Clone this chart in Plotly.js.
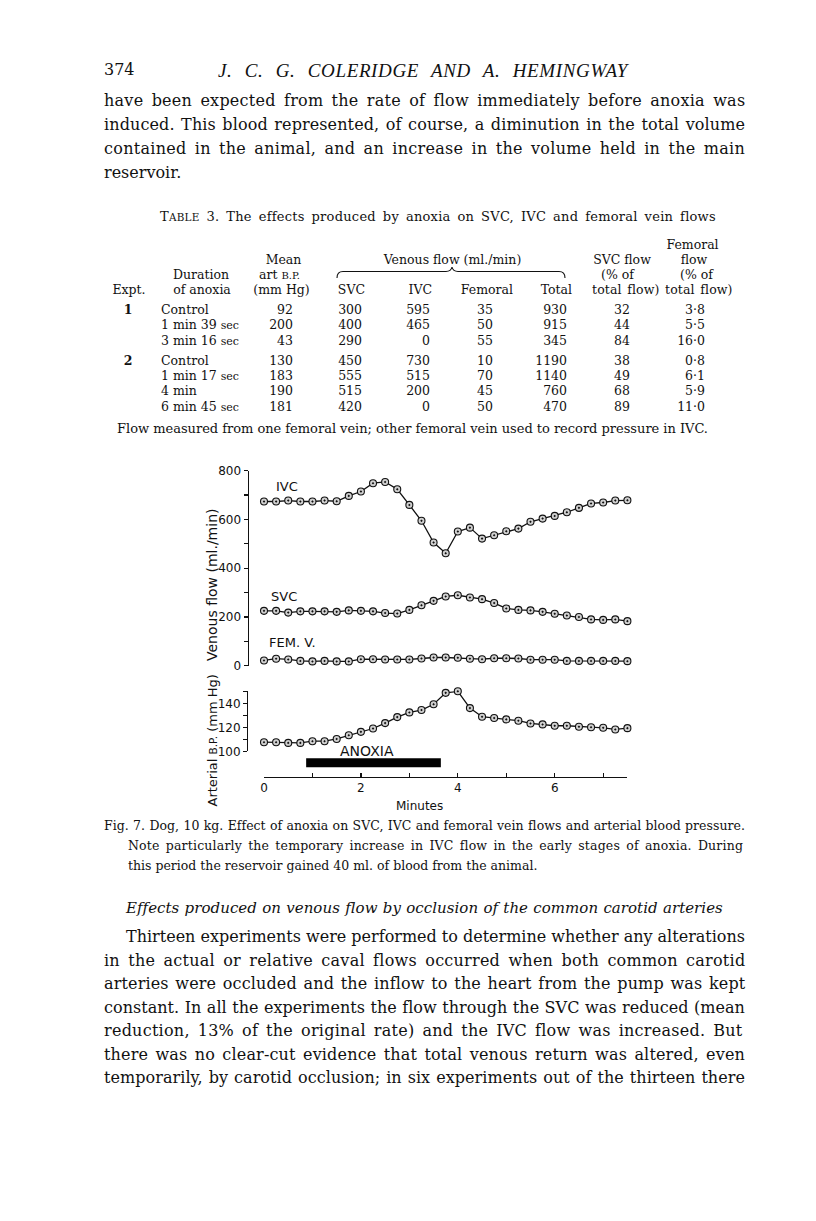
<!DOCTYPE html>
<html><head><meta charset="utf-8">
<script src="https://cdn.plot.ly/plotly-3.0.1.min.js"></script>
<style>
html,body{margin:0;padding:0;background:#fff;}
#page{position:relative;width:816px;height:1221px;overflow:hidden;background:#fff;}
#chart{position:absolute;left:0;top:0;width:816px;height:1221px;z-index:0;}
.t{position:absolute;white-space:nowrap;z-index:2;color:#111;line-height:1;}
</style></head><body><div id="page"><div id="chart"></div></div>
<script>
// ---------- chart data ----------
const minutes = [0,0.25,0.5,0.75,1,1.25,1.5,1.75,2,2.25,2.5,2.75,3,3.25,3.5,3.75,4,4.25,4.5,4.75,5,5.25,5.5,5.75,6,6.25,6.5,6.75,7,7.25,7.5];
const ivcFlow = [673,673,677,673,673,677,674,696,714,748,753,723,659,594,505,461,550,566,521,535,551,562,590,603,614,629,647,665,669,677,678];
const svcFlow = [225,225,218,223,223,223,221,227,225,223,216,214,229,248,266,284,289,280,273,257,235,229,227,221,213,206,200,190,188,190,183];
const femFlow = [22,29,26,20,18,20,18,18,27,27,26,26,26,30,34,34,33,29,27,31,31,30,25,25,25,20,20,20,20,20,19];
const arterialBP = [107.6,107.6,107,107,108.4,108.4,110.3,113.4,116.2,119,123.5,128.5,132.4,134.4,139.2,148.7,150,136,128.8,127.7,126.6,125.5,123.2,122.4,121.3,121.3,120.4,120.1,119.6,118.2,119.3];
const anoxiaPeriod = [0.87, 3.65];
const xTickVals = [0,1,2,3,4,5,6,7];
const xTickText = ['0','','2','','4','','6',''];
const flowTickVals = [0,100,200,300,400,500,600,700,800];
const flowTickText = ['0','','200','','400','','600','','800'];
const bpTickVals = [100,110,120,130,140,150];
const bpTickText = ['100','','120','','140',''];

// ---------- table data ----------
const tblExpt = ['1','','','2','','',''];
const tblDuration = ['Control','1 min 39 <span style="font-size:0.88em">sec</span>','3 min 16 <span style="font-size:0.88em">sec</span>','Control','1 min 17 <span style="font-size:0.88em">sec</span>','4 min','6 min 45 <span style="font-size:0.88em">sec</span>'];
const tblMeanBP = ['92','200','43','130','183','190','181'];
const tblSVC = ['300','400','290','450','555','515','420'];
const tblIVC = ['595','465','0','730','515','200','0'];
const tblFem = ['35','50','55','10','70','45','50'];
const tblTotal = ['930','915','345','1190','1140','760','470'];
const tblSVCpct = ['32','44','84','38','49','68','89'];
const tblFemPct = ['3·8','5·5','16·0','0·8','6·1','5·9','11·0'];

// ---------- page text ----------
const para1 = [
 'have been expected from the rate of flow immediately before anoxia was',
 'induced. This blood represented, of course, a diminution in the total volume',
 'contained in the animal, and an increase in the volume held in the main',
 'reservoir.'];
const caption = [
 'Fig. 7.  Dog, 10 kg.  Effect of anoxia on SVC, IVC and femoral vein flows and arterial blood pressure.',
 'Note particularly the temporary increase in IVC flow in the early stages of anoxia.  During',
 'this period the reservoir gained 40 ml. of blood from the animal.'];
const para2 = [
 'Thirteen experiments were performed to determine whether any alterations',
 'in the actual or relative caval flows occurred when both common carotid',
 'arteries were occluded and the inflow to the heart from the pump was kept',
 'constant.  In all the experiments the flow through the SVC was reduced (mean',
 'reduction, 13% of the original rate) and the IVC flow was increased.  But',
 'there was no clear-cut evidence that total venous return was altered, even',
 'temporarily, by carotid occlusion; in six experiments out of the thirteen there'];

const page = document.getElementById('page');
const SERIF = '"DejaVu Serif", serif';
function fit(d, target, mode){
  d.style.letterSpacing='0px'; d.style.wordSpacing='0px';
  const w = d.getBoundingClientRect().width;
  const txt = d.textContent;
  const nSp = (txt.match(/ /g)||[]).length;
  const nCh = txt.length;
  const gap = target - w;
  if(mode==='letters' || nSp===0){ d.style.letterSpacing = (gap/nCh)+'px'; }
  else { d.style.letterSpacing = (gap*0.35/nCh)+'px'; d.style.wordSpacing = (gap*0.65/nSp)+'px'; }
}
function T(x,y,html,o){
  o=o||{};
  const d=document.createElement('div'); d.className='t'; d.innerHTML=html;
  d.style.fontFamily=o.ff||SERIF; d.style.fontSize=(o.fs||15)+'px';
  if(o.it) d.style.fontStyle='italic';
  if(o.b) d.style.fontWeight='bold';
  d.style.left=x+'px'; d.style.top=y+'px';
  const ax = o.al==='r'?'-100%':o.al==='c'?'-50%':'0';
  d.style.transform='translate('+ax+',-50%)';
  page.appendChild(d);
  if(o.w) fit(d,o.w,o.mode);
  return d;
}

// header
T(104,70,'374',{fs:16});
T(218,70,'J. C. G. COLERIDGE AND A. HEMINGWAY',{fs:19,it:true,w:410,ff:'"Liberation Serif", serif'});
para1.forEach((s,i)=>T(104,101+24*i,s,{fs:16,w:(i<para1.length-1?641:0)}));

// table
T(160,216,'T<span style="font-size:0.8em">ABLE</span> 3.  The effects produced by anoxia on SVC, IVC and femoral vein flows',{fs:13,w:558});
const TF=12.5;
T(692.5,245,'Femoral',{fs:TF,al:'c'});
T(283.5,259.5,'Mean',{fs:TF,al:'c'});
T(452.5,259.5,'Venous flow (ml./min)',{fs:TF,al:'c'});
T(622,260,'SVC flow',{fs:TF,al:'c'});
T(694,260,'flow',{fs:TF,al:'c'});
T(201,274.5,'Duration',{fs:TF,al:'c'});
T(279.5,274.5,'art <span style="font-size:0.8em">B.P.</span>',{fs:TF,al:'c'});
T(617.5,275,'(% of',{fs:TF,al:'c'});
T(696.5,275,'(% of',{fs:TF,al:'c'});
T(129,290,'Expt.',{fs:TF,al:'c'});
T(202,290,'of anoxia',{fs:TF,al:'c'});
T(281.5,290,'(mm Hg)',{fs:TF,al:'c'});
T(365,290,'SVC',{fs:TF,al:'r'});
T(432,290,'IVC',{fs:TF,al:'r'});
T(513,290,'Femoral',{fs:TF,al:'r'});
T(572,290,'Total',{fs:TF,al:'r'});
T(592,290,'total flow) total flow)',{fs:TF,w:140});
const rowY=[310,325,340.5,360.5,376,391,406.5];
rowY.forEach((y,i)=>{
  if(tblExpt[i]) T(128,y,tblExpt[i],{fs:TF,al:'c',b:true});
  T(161,y,tblDuration[i],{fs:TF});
  T(293,y,tblMeanBP[i],{fs:TF,al:'r'});
  T(362,y,tblSVC[i],{fs:TF,al:'r'});
  T(430,y,tblIVC[i],{fs:TF,al:'r'});
  T(493,y,tblFem[i],{fs:TF,al:'r'});
  T(567,y,tblTotal[i],{fs:TF,al:'r'});
  T(630,y,tblSVCpct[i],{fs:TF,al:'r'});
  T(705,y,tblFemPct[i],{fs:TF,al:'r'});
});
T(117,428,'Flow measured from one femoral vein; other femoral vein used to record pressure in IVC.',{fs:13,w:591});
// brace
const br=document.createElementNS('http://www.w3.org/2000/svg','svg');
br.setAttribute('width','816');br.setAttribute('height','1221');
br.style.position='absolute';br.style.left='0';br.style.top='0';br.style.zIndex='2';
br.innerHTML='<path d="M337,278 Q337,271.5 343,271.5 L446,271.5 Q451,271.5 452,267 Q453,271.5 458,271.5 L559,271.5 Q565,271.5 565,278" fill="none" stroke="#111" stroke-width="1.1"/>';
page.appendChild(br);

// caption
T(104,826,caption[0],{fs:12.5,w:641});
T(128,846,caption[1],{fs:12.5,w:617});
T(128,866,caption[2],{fs:12.5});

// bottom section
T(126,908,'Effects produced on venous flow by occlusion of the common carotid arteries',{fs:15,it:true,w:596});
para2.forEach((s,i)=>{const x=i===0?126:104; T(x,937+23.5*i,s,{fs:16,w:745-x});});

// ---------- Plotly chart ----------
const W=816,H=1221;
const px=v=>v/W, py=v=>1-v/H;
const FONT='"DejaVu Sans", sans-serif';
const lineStyle={color:'#111',width:1.3};
const mk={symbol:'circle-dot',size:7,color:'#d0d0d0',line:{color:'#111',width:1.1}};
function tr(y,axis,name){return {x:minutes,y:y,yaxis:axis,type:'scatter',mode:'lines+markers',name:name,line:lineStyle,marker:mk,cliponaxis:false,showlegend:false,hoverinfo:'skip'};}
const data=[tr(ivcFlow,'y','IVC'),tr(svcFlow,'y','SVC'),tr(femFlow,'y','FEM. V.'),tr(arterialBP,'y2','Arterial B.P.')];
const axCommon={showgrid:false,zeroline:false,showline:true,linecolor:'#111',linewidth:1.3,tickcolor:'#111',tickwidth:1.2,tickfont:{family:FONT,size:12,color:'#111'},fixedrange:true};
const layout={
  width:W,height:H,margin:{l:0,r:0,t:0,b:0},paper_bgcolor:'rgba(0,0,0,0)',plot_bgcolor:'rgba(0,0,0,0)',
  showlegend:false,
  xaxis:Object.assign({},axCommon,{domain:[px(264),px(627.4)],range:[0,7.5],anchor:'free',position:py(776.7),ticks:'inside',ticklen:4,tickvals:xTickVals,ticktext:xTickText}),
  yaxis:Object.assign({},axCommon,{domain:[py(665.8),py(470.5)],range:[0,800],anchor:'free',position:px(247.5),ticks:'outside',ticklen:4,tickvals:flowTickVals,ticktext:flowTickText}),
  yaxis2:Object.assign({},axCommon,{domain:[py(751.3),py(691.3)],range:[100,150],anchor:'free',position:px(247),ticks:'outside',ticklen:4,tickvals:bpTickVals,ticktext:bpTickText}),
  shapes:[{type:'rect',xref:'x',yref:'paper',x0:anoxiaPeriod[0],x1:anoxiaPeriod[1],y0:py(767.3),y1:py(758.3),fillcolor:'#000',line:{width:0}}],
  annotations:[
    {text:'IVC',x:px(286.5),y:py(486.7)},
    {text:'SVC',x:px(283.5),y:py(596.7)},
    {text:'FEM. V.',x:px(292),y:py(642.7)},
    {text:'ANOXIA',x:px(366.7),y:py(750.7),font:{family:FONT,size:14,color:'#111'}},
    {text:'Venous flow (ml./min)',x:px(211.5),y:py(585.5),textangle:-90,font:{family:FONT,size:14,color:'#111'}},
    {text:'Arterial <span style="font-size:10.5px">B.P.</span> (mm Hg)',x:px(211.5),y:py(741),textangle:-90},
    {text:'Minutes',x:px(420),y:py(806),font:{family:FONT,size:12,color:'#111'}}
  ].map(a=>Object.assign({xref:'paper',yref:'paper',showarrow:false,xanchor:'center',yanchor:'middle',font:{family:FONT,size:13,color:'#111'}},a))
};
Plotly.newPlot('chart',data,layout,{staticPlot:true,displayModeBar:false});
</script></body></html>
